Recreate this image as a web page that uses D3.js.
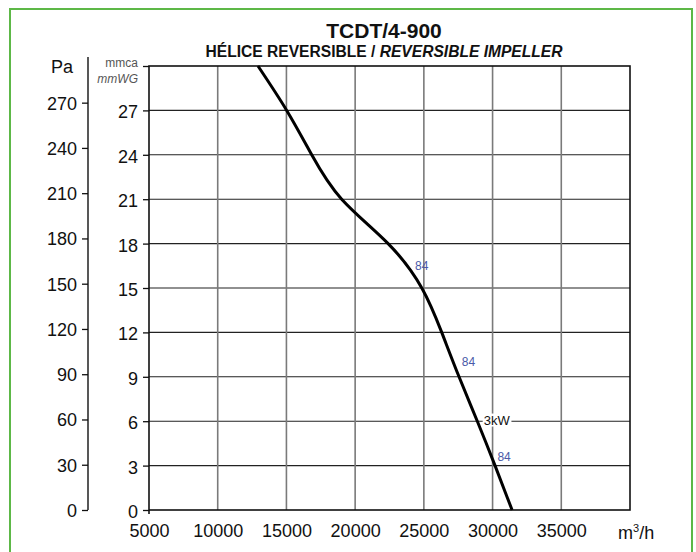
<!DOCTYPE html>
<html>
<head>
<meta charset="utf-8">
<script src="https://cdn.jsdelivr.net/npm/d3@7/dist/d3.min.js"></script>
<style>
  html, body { margin: 0; padding: 0; background: #fff; }
  svg { display: block; font-family: "Liberation Sans", Arial, Helvetica, sans-serif; }
</style>
</head>
<body>
<svg id="chart" width="696" height="552"></svg>
<script>
// ---- data ----
const flowTicks = [5000, 10000, 15000, 20000, 25000, 30000, 35000];
const mmcaTicks = [0, 3, 6, 9, 12, 15, 18, 21, 24, 27];
const paTicks = [0, 30, 60, 90, 120, 150, 180, 210, 240, 270];
const curveFlow = [12930, 15020, 16840, 19020, 22400, 24850, 26300, 27560, 28890, 30180, 31420];
const curveMmca = [30, 27, 24, 21, 18, 15, 12, 9, 6, 3, 0];
const effLabels = ["84", "84", "84"];
const effFlow = [24850, 28240, 30840];
const effMmca = [16.5, 10.0, 3.6];
const powerLabel = "3kW";
const powerFlow = 30300;
const powerMmca = 6.08;
const title = "TCDT/4-900";
const subtitleA = "HÉLICE REVERSIBLE / ";
const subtitleB = "REVERSIBLE IMPELLER";

// ---- layout ----
const svg = d3.select("#chart");
const L = 149, R = 630, T = 66, B = 510;
const x = d3.scaleLinear().domain([5000, 40000]).range([L, R]);
const y = d3.scaleLinear().domain([0, 30]).range([B, T]);
const yPa = d3.scaleLinear().domain([0, 30 * 9.81]).range([B, T]);

// green frame
svg.append("rect").attr("x", 10).attr("y", 9).attr("width", 682).attr("height", 560)
  .attr("fill", "none").attr("stroke", "#5db847").attr("stroke-width", 2);

// titles
svg.append("text").attr("x", 384).attr("y", 38).attr("text-anchor", "middle")
  .attr("font-size", 21).attr("font-weight", "bold").attr("fill", "#111").text(title);
const st = svg.append("text").attr("x", 384).attr("y", 57).attr("text-anchor", "middle")
  .attr("font-size", 15.6).attr("font-weight", "bold").attr("fill", "#111");
st.append("tspan").text(subtitleA);
st.append("tspan").attr("font-style", "italic").text(subtitleB);

// grid
const g = svg.append("g");
g.selectAll("line.h").data(mmcaTicks.filter(d => d > 0)).join("line")
  .attr("x1", L).attr("x2", R).attr("y1", d => y(d)).attr("y2", d => y(d))
  .attr("stroke", "#222").attr("stroke-width", 1.1);
g.selectAll("line.v").data(flowTicks.filter(d => d > 5000)).join("line")
  .attr("x1", d => x(d)).attr("x2", d => x(d)).attr("y1", T).attr("y2", B)
  .attr("stroke", "#7a7a7a").attr("stroke-width", 1.6);

// frame
svg.append("rect").attr("x", L).attr("y", T).attr("width", R - L).attr("height", B - T)
  .attr("fill", "none").attr("stroke", "#111").attr("stroke-width", 1.6);

// left (mmca) axis
const yAxis = d3.axisLeft(y).tickValues(mmcaTicks.concat([30])).tickSize(6).tickPadding(5)
  .tickFormat(d => d === 30 ? "" : d);
const ya = svg.append("g").attr("transform", `translate(${L},0)`).call(yAxis);
ya.select(".domain").remove();
ya.selectAll("line").attr("stroke", "#111").attr("stroke-width", 1.3);
ya.selectAll("text").attr("font-size", 18).attr("fill", "#111").attr("font-family", "Liberation Sans, Arial, sans-serif").attr("dy", "0.42em");
svg.append("line").attr("x1", L).attr("x2", L).attr("y1", B).attr("y2", B + 4).attr("stroke", "#111").attr("stroke-width", 1.6);

// Pa axis
const paAxis = d3.axisLeft(yPa).tickValues(paTicks).tickSize(6).tickPadding(5);
const pa = svg.append("g").attr("transform", "translate(88,0)").call(paAxis);
pa.select(".domain").remove();
pa.selectAll("line").attr("stroke", "#111").attr("stroke-width", 1.3);
pa.selectAll("text").attr("font-size", 18).attr("fill", "#111").attr("font-family", "Liberation Sans, Arial, sans-serif").attr("dy", "0.36em");
svg.append("line").attr("x1", 88).attr("x2", 88).attr("y1", 57).attr("y2", B)
  .attr("stroke", "#111").attr("stroke-width", 1.4);

// units
svg.append("text").attr("x", 62).attr("y", 73).attr("text-anchor", "middle")
  .attr("font-size", 18).attr("fill", "#111").text("Pa");
svg.append("text").attr("x", 138).attr("y", 67).attr("text-anchor", "end")
  .attr("font-size", 12).attr("fill", "#555").text("mmca");
svg.append("text").attr("x", 138).attr("y", 83).attr("text-anchor", "end")
  .attr("font-size", 12).attr("font-style", "italic").attr("fill", "#555").text("mmWG");

// bottom axis labels
const xAxis = d3.axisBottom(x).tickValues(flowTicks).tickSize(0).tickPadding(14).tickFormat(d3.format("d"));
const xa = svg.append("g").attr("transform", `translate(0,${B})`).call(xAxis);
xa.select(".domain").remove();
xa.selectAll("text").attr("font-size", 18).attr("fill", "#111").attr("font-family", "Liberation Sans, Arial, sans-serif");
const unit = svg.append("text").attr("x", 618).attr("y", 539).attr("font-size", 18).attr("fill", "#111");
unit.append("tspan").text("m");
unit.append("tspan").attr("font-size", 11).attr("dy", -7).text("3");
unit.append("tspan").attr("dy", 7).text("/h");

// curve
const pts = curveFlow.map((f, i) => [f, curveMmca[i]]);
const line = d3.line().x(d => x(d[0])).y(d => y(d[1])).curve(d3.curveNatural);
svg.append("path").datum(pts).attr("d", line).attr("fill", "none")
  .attr("stroke", "#000").attr("stroke-width", 3);

// power label with white background
const pl = svg.append("g");
const pt = pl.append("text").attr("x", x(powerFlow)).attr("y", y(powerMmca))
  .attr("dy", "0.35em").attr("text-anchor", "middle")
  .attr("font-size", 13).attr("fill", "#111").text(powerLabel);
const bb = pt.node().getBBox();
pl.insert("rect", "text").attr("x", bb.x - 1).attr("y", bb.y + 1).attr("width", bb.width + 2).attr("height", bb.height - 2).attr("fill", "#fff");

// efficiency labels
svg.selectAll("text.eff").data(effLabels).join("text").attr("class", "eff")
  .attr("x", (d, i) => x(effFlow[i])).attr("y", (d, i) => y(effMmca[i]))
  .attr("dy", "0.35em").attr("text-anchor", "middle")
  .attr("font-size", 12).attr("fill", "#4a5aa8").text(d => d);
</script>
</body>
</html>
